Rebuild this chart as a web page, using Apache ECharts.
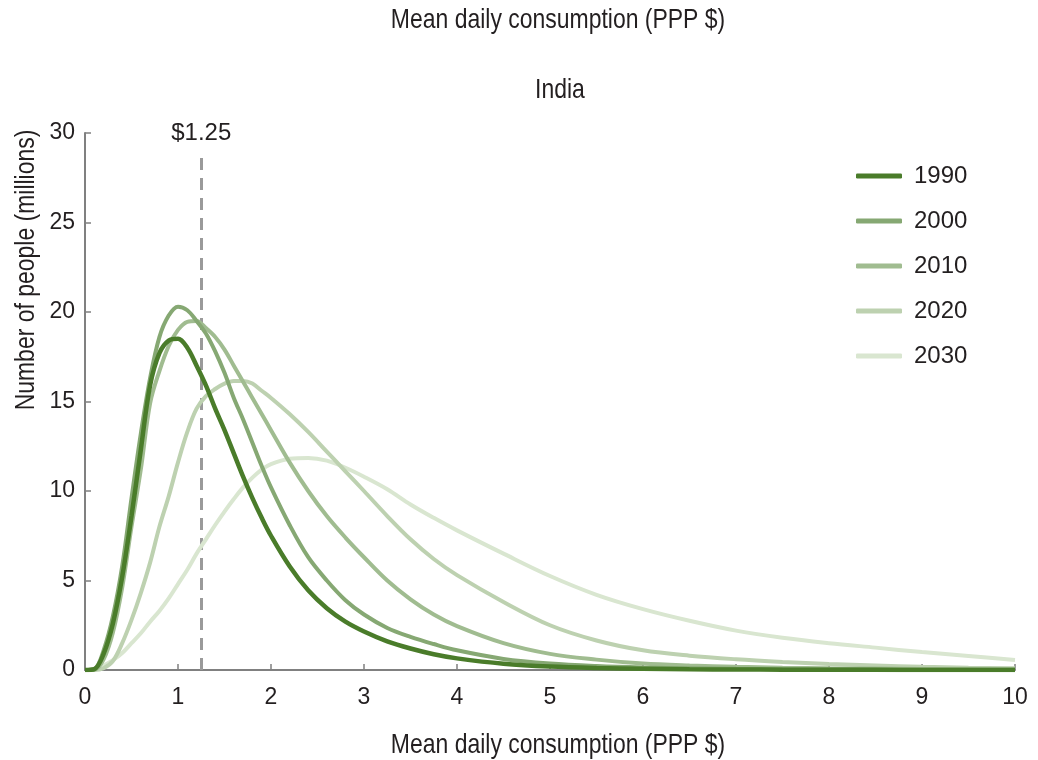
<!DOCTYPE html>
<html>
<head>
<meta charset="utf-8">
<title>India - Mean daily consumption</title>
<script src="https://cdn.jsdelivr.net/npm/echarts/dist/echarts.min.js"></script>
<style>
    html, body { margin: 0; padding: 0; background: #fff; }
    #main { width: 1038px; height: 760px; }
</style>
</head>
<body>
<div id="main"></div>
<script>
// x values (PPP $ per day), shared by all years
var xs = [0, 0.1, 0.2, 0.3, 0.4, 0.5, 0.6, 0.7, 0.8, 0.9, 1.0, 1.1, 1.2, 1.3, 1.4, 1.5, 1.6, 1.7, 1.8, 1.9, 2.0,
    2.2, 2.4, 2.6, 2.8, 3.0, 3.25, 3.5, 3.75, 4.0, 4.5, 5.0, 5.5, 6.0, 6.5, 7.0, 7.5, 8.0, 8.5, 9.0, 9.5, 10];

// number of people (millions)
var y1990 = [0, 0.05, 0.9, 2.6, 5.2, 8.6, 12.3, 15.9, 17.7, 18.4, 18.5, 18.0, 17.0, 15.9, 14.6, 13.4, 12.1, 10.8, 9.6, 8.5, 7.5,
    5.8, 4.45, 3.45, 2.7, 2.15, 1.6, 1.2, 0.88, 0.65, 0.35, 0.19, 0.11, 0.07, 0.04, 0.03, 0.02, 0.01, 0.01, 0, 0, 0];
var y2000 = [0, 0.05, 1.1, 3.0, 5.8, 9.6, 13.2, 16.3, 18.6, 19.8, 20.3, 20.1, 19.5, 18.8, 17.8, 16.6, 15.2, 14.0, 12.7, 11.4, 10.2,
    8.1, 6.3, 5.0, 3.9, 3.1, 2.35, 1.85, 1.45, 1.1, 0.62, 0.36, 0.22, 0.14, 0.1, 0.07, 0.05, 0.04, 0.03, 0.02, 0.015, 0.01];
var y2010 = [0, 0.02, 0.6, 2.1, 4.6, 8.0, 11.2, 14.9, 16.7, 18.1, 19.0, 19.45, 19.5, 19.1, 18.6, 17.9, 17.0, 16.1, 15.2, 14.3, 13.4,
    11.6, 10.0, 8.6, 7.4, 6.3, 5.0, 3.95, 3.1, 2.45, 1.5, 0.9, 0.58, 0.36, 0.25, 0.18, 0.13, 0.1, 0.08, 0.06, 0.05, 0.04];
var y2020 = [0, 0, 0.1, 0.5, 1.5, 2.8, 4.3, 6.0, 8.0, 9.7, 11.6, 13.3, 14.6, 15.3, 15.7, 16.0, 16.15, 16.15, 16.0, 15.6, 15.2,
    14.3, 13.3, 12.2, 11.1, 10.0, 8.6, 7.3, 6.2, 5.3, 3.8, 2.5, 1.65, 1.1, 0.8, 0.6, 0.45, 0.33, 0.25, 0.18, 0.13, 0.1];
var y2030 = [0, 0.05, 0.25, 0.55, 0.95, 1.5, 2.05, 2.7, 3.3, 4.0, 4.8, 5.6, 6.5, 7.3, 8.1, 8.85, 9.55, 10.2, 10.75, 11.2, 11.5,
    11.8, 11.85, 11.7, 11.3, 10.8, 10.1, 9.25, 8.5, 7.8, 6.5, 5.25, 4.2, 3.4, 2.75, 2.2, 1.8, 1.5, 1.25, 1.0, 0.78, 0.56];

var years = ['1990', '2000', '2010', '2020', '2030'];
var yearValues = [y1990, y2000, y2010, y2020, y2030];
var yearColors = ['#4a7c2a', '#86a873', '#a0bc90', '#bdd1b0', '#d9e6d0'];
var povertyLine = 1.25;

var xTicks = { min: 0, max: 10, step: 1 };
var yTicks = { min: 0, max: 30, step: 5 };

var FONT = "'Liberation Sans', Arial, sans-serif";
var TEXT = '#231f20';
var AXIS = '#808080';
var NARROW = 0.82; // the original uses a condensed face, squeeze the big labels

var myChart = echarts.init(document.getElementById('main'), null, { renderer: 'canvas' });

function toPairs(vals) {
    var out = [];
    for (var i = 0; i < xs.length; i++) {
        out.push([xs[i], vals[i]]);
    }
    return out;
}

// draw the lightest year first so 1990 ends up on top
var series = [];
for (var i = years.length - 1; i >= 0; i--) {
    var s = {
        name: years[i],
        type: 'line',
        data: toPairs(yearValues[i]),
        smooth: 0.35,
        symbol: 'none',
        color: yearColors[i],
        lineStyle: { color: yearColors[i], width: i === 0 ? 4.5 : 4 },
        z: 10 - i
    };
    if (i === 0) {
        // $1.25 poverty line
        s.markLine = {
            silent: true,
            symbol: 'none',
            lineStyle: { color: '#9a9a9a', width: 3, type: [12, 8] },
            label: {
                show: true,
                position: 'end',
                formatter: '$1.25',
                color: TEXT,
                fontFamily: FONT,
                fontSize: 24,
                distance: 6
            },
            data: [[{ coord: [povertyLine, 0] }, { coord: [povertyLine, 29] }]]
        };
    }
    series.push(s);
}

function bigText(txt, x, y, rot) {
    return {
        type: 'text', x: x, y: y, rotation: rot || 0, scaleX: NARROW,
        style: { text: txt, fill: TEXT, font: '28px ' + FONT, textAlign: 'center', textVerticalAlign: 'middle' }
    };
}

var option = {
    animation: false,
    backgroundColor: '#fff',
    textStyle: { fontFamily: FONT, color: TEXT },
    grid: { left: 85, right: 23, top: 133, bottom: 90, containLabel: false },
    legend: {
        orient: 'vertical',
        left: 851,
        top: 156,
        data: years,
        icon: 'roundRect',
        itemWidth: 46,
        itemHeight: 5,
        itemGap: 15,
        textStyle: { fontFamily: FONT, fontSize: 24, color: TEXT, lineHeight: 30, padding: [0, 0, 0, 7] }
    },
    xAxis: {
        type: 'value',
        min: xTicks.min,
        max: xTicks.max,
        interval: xTicks.step,
        splitLine: { show: false },
        axisLine: { lineStyle: { color: AXIS, width: 2 } },
        axisTick: { inside: true, length: 6, lineStyle: { color: AXIS, width: 1.5 } },
        axisLabel: { fontFamily: FONT, fontSize: 23, color: TEXT, margin: 16 }
    },
    yAxis: {
        type: 'value',
        min: yTicks.min,
        max: yTicks.max,
        interval: yTicks.step,
        splitLine: { show: false },
        axisLine: { show: true, lineStyle: { color: AXIS, width: 2 } },
        axisTick: { show: true, inside: true, length: 6, lineStyle: { color: AXIS, width: 1.5 } },
        axisLabel: { fontFamily: FONT, fontSize: 23, color: TEXT, margin: 10 }
    },
    graphic: [
        bigText('Mean daily consumption (PPP $)', 558, 20),
        bigText('India', 560, 90),
        bigText('Mean daily consumption (PPP $)', 558, 745),
        bigText('Number of people (millions)', 26, 270, Math.PI / 2)
    ],
    series: series
};

myChart.setOption(option);
</script>
</body>
</html>
